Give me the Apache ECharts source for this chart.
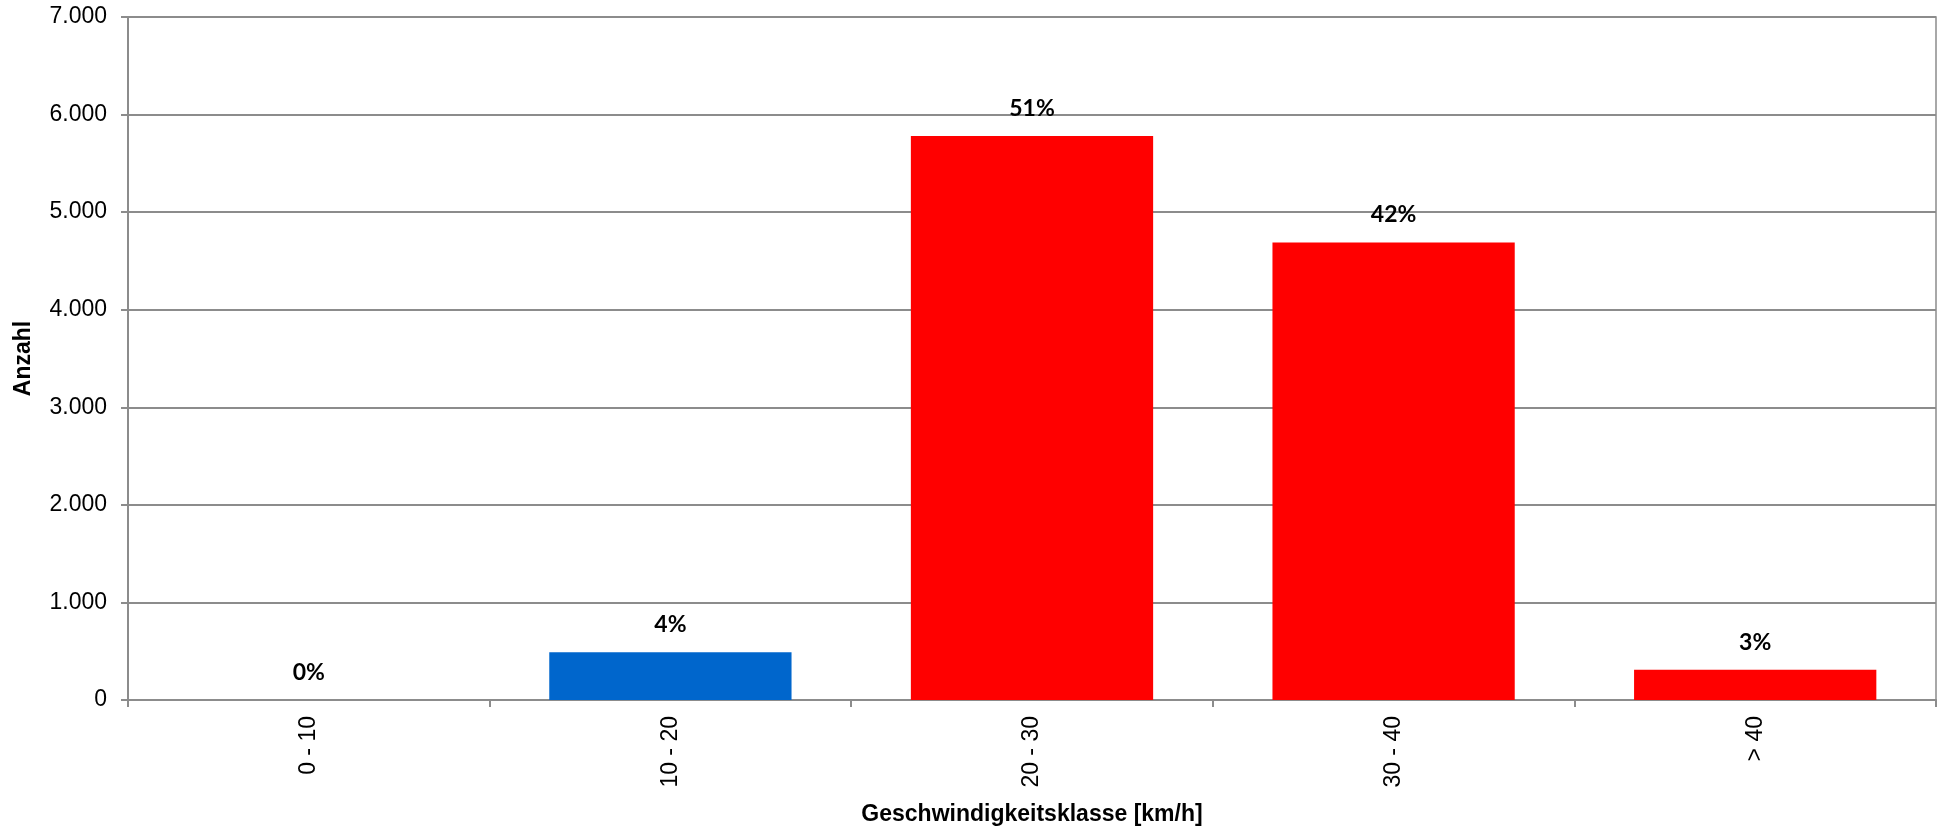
<!DOCTYPE html>
<html>
<head>
<meta charset="utf-8">
<script src="https://cdn.jsdelivr.net/npm/echarts@6/dist/echarts.min.js"></script>
<style>
html,body{margin:0;padding:0;background:#fff;overflow:hidden;}
#chart{width:1941px;height:827px;}
</style>
</head>
<body>
<div id="chart"></div>
<script>
const categories = ['0 - 10', '10 - 20', '20 - 30', '30 - 40', '> 40'];
const counts = [0, 490, 5780, 4690, 310];
const percentLabels = ['0%', '4%', '51%', '42%', '3%'];
const yTicks = [0, 1000, 2000, 3000, 4000, 5000, 6000, 7000];

const barColors = ['#0066CC', '#0066CC', '#FF0000', '#FF0000', '#FF0000'];
const gridColor = '#8c8c8c';

const chart = echarts.init(document.getElementById('chart'), null, {renderer: 'canvas'});

function fmtThousands(v) {
  return String(v).replace(/\B(?=(\d{3})+(?!\d))/g, '.');
}

chart.setOption({
  animation: false,
  backgroundColor: '#ffffff',
  grid: {
    left: 128, right: 5, top: 17, bottom: 127,
    show: true, borderColor: gridColor, borderWidth: 1.5,
    containLabel: false,
    outerBoundsMode: 'none'
  },
  xAxis: {
    type: 'category',
    data: categories,
    name: 'Geschwindigkeitsklasse [km/h]',
    nameLocation: 'middle',
    nameGap: 103,
    nameTextStyle: {fontFamily: 'Liberation Sans, Arial', fontWeight: 'bold', fontSize: 23, color: '#000'},
    axisLine: {lineStyle: {color: gridColor, width: 2}},
    axisTick: {show: true, alignWithLabel: false, length: 7, lineStyle: {color: gridColor, width: 2}},
    axisLabel: {
      rotate: 90, margin: 16,
      fontFamily: 'Liberation Sans, Arial', fontSize: 23, color: '#000'
    },
    splitLine: {show: false}
  },
  yAxis: {
    type: 'value',
    min: yTicks[0],
    max: yTicks[yTicks.length - 1],
    interval: yTicks[1] - yTicks[0],
    name: 'Anzahl',
    nameLocation: 'middle',
    nameGap: 93,
    nameRotate: 90,
    nameTextStyle: {fontFamily: 'Liberation Sans, Arial', fontWeight: 'bold', fontSize: 23, color: '#000'},
    axisLine: {show: true, lineStyle: {color: gridColor, width: 2}},
    axisTick: {show: true, length: 7, lineStyle: {color: gridColor, width: 2}},
    axisLabel: {
      margin: 21,
      fontFamily: 'Liberation Sans, Arial', fontSize: 23, color: '#000',
      formatter: v => fmtThousands(v)
    },
    splitLine: {show: true, lineStyle: {color: gridColor, width: 2}}
  },
  series: [{
    type: 'bar',
    data: counts,
    barCategoryGap: '33%',
    itemStyle: {color: p => barColors[p.dataIndex]},
    label: {
      show: true,
      position: 'top',
      distance: 16,
      fontFamily: 'Lato',
      fontWeight: 'bold',
      fontSize: 23,
      color: '#000',
      formatter: p => percentLabels[p.dataIndex]
    }
  }]
});
</script>
</body>
</html>
